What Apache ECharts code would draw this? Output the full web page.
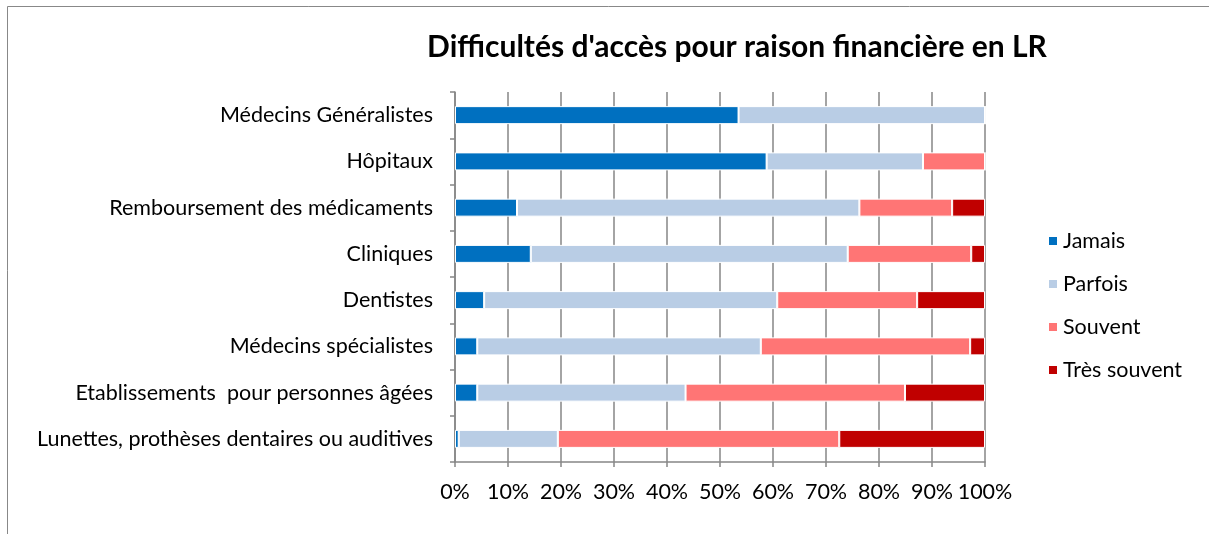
<!DOCTYPE html>
<html>
<head>
<meta charset="utf-8">
<script src="https://cdn.jsdelivr.net/npm/echarts@6/dist/echarts.min.js"></script>
<style>
  html, body { margin: 0; padding: 0; background: #fff; }
  #chart { width: 1209px; height: 534px; }
</style>
</head>
<body>
<div id="chart"></div>
<script>
const categories = [
  'Médecins Généralistes',
  'Hôpitaux',
  'Remboursement des médicaments',
  'Cliniques',
  'Dentistes',
  'Médecins spécialistes',
  'Etablissements  pour personnes âgées',
  'Lunettes, prothèses dentaires ou auditives'
];
const jamais      = [53.5, 58.8, 11.7, 14.3, 5.5, 4.2, 4.2, 0.7];
const parfois     = [46.5, 29.5, 64.6, 59.8, 55.3, 53.5, 39.3, 18.7];
const souvent     = [0, 11.7, 17.5, 23.3, 26.4, 39.5, 41.4, 53.1];
const tresSouvent = [0, 0, 6.2, 2.6, 12.8, 2.8, 15.1, 27.5];

const font = 'Lato';
const chart = echarts.init(document.getElementById('chart'));

const mk = (name, data, color) => ({
  name: name,
  type: 'bar',
  stack: 'total',
  barWidth: 18,
  itemStyle: { color: color, borderColor: '#fff', borderWidth: 1 },
  data: data
});

chart.setOption({
  backgroundColor: '#fff',
  animation: false,
  title: {
    text: "Difficultés d'accès pour raison financière en LR",
    left: 732,
    textAlign: 'center',
    top: 27,
    textStyle: { fontFamily: font, fontSize: 30, fontWeight: 'bold', color: '#000' }
  },
  graphic: [{
    type: 'rect',
    shape: { x: 7.5, y: 6.5, width: 1220, height: 540 },
    style: { fill: 'none', stroke: '#888', lineWidth: 1 },
    silent: true
  }],
  legend: {
    orient: 'vertical',
    left: 1042,
    top: 225,
    itemWidth: 10,
    itemHeight: 10,
    itemGap: 21,
    icon: 'rect',
    textStyle: { fontFamily: font, fontSize: 21.5, color: '#000' },
    data: ['Jamais', 'Parfois', 'Souvent', 'Très souvent']
  },
  grid: { left: 455, right: 224, top: 92, bottom: 72 },
  xAxis: {
    type: 'value',
    min: 0,
    max: 100,
    interval: 10,
    axisLine: { show: true, lineStyle: { color: '#868686', width: 1.5 } },
    axisTick: { show: true, length: 5, lineStyle: { color: '#868686', width: 1.5 } },
    axisLabel: { formatter: '{value}%', fontFamily: font, fontSize: 21.5, color: '#000', margin: 19 },
    splitLine: { show: true, lineStyle: { color: '#868686', width: 1.5 } }
  },
  yAxis: {
    type: 'category',
    inverse: true,
    data: categories,
    axisLine: { show: true, lineStyle: { color: '#868686', width: 1.5 } },
    axisTick: { show: true, length: 5, lineStyle: { color: '#868686', width: 1.5 } },
    axisLabel: { fontFamily: font, fontSize: 21.5, color: '#000', margin: 22 }
  },
  series: [
    mk('Jamais', jamais, '#0070C0'),
    mk('Parfois', parfois, '#B9CDE5'),
    mk('Souvent', souvent, '#FF7575'),
    mk('Très souvent', tresSouvent, '#C00000')
  ]
});
</script>
</body>
</html>
